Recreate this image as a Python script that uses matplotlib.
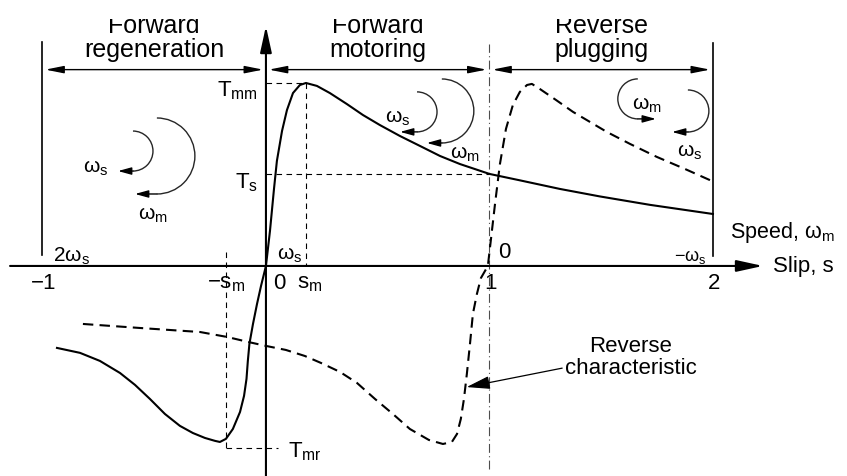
import matplotlib
matplotlib.use("Agg")
import matplotlib.pyplot as plt
from matplotlib.patches import Arc

plt.rcParams["font.family"] = ["Liberation Sans", "DejaVu Sans"]
plt.rcParams["mathtext.fontset"] = "custom"
plt.rcParams["mathtext.rm"] = "Liberation Sans"

# torque-slip characteristic (torque normalised to T_mm)
slip_fwd = [-0.935, -0.832, -0.743, -0.653, -0.586, -0.519, -0.452, -0.385, -0.327, -0.273,
            -0.228, -0.206, -0.179, -0.148, -0.116, -0.098, -0.087, -0.081, -0.074, -0.058,
            -0.040, -0.022, 0.0, 0.018, 0.036, 0.049, 0.072, 0.094, 0.121, 0.152,
            0.179, 0.228, 0.286, 0.362, 0.434, 0.510, 0.600, 0.689, 0.779, 0.868,
            1.0, 1.136, 1.315, 1.494, 1.718, 2.0]
torque_fwd = [-0.448, -0.475, -0.519, -0.585, -0.650, -0.727, -0.809, -0.874, -0.913, -0.940,
              -0.956, -0.962, -0.945, -0.891, -0.798, -0.710, -0.617, -0.519, -0.426, -0.317,
              -0.208, -0.109, 0.0, 0.191, 0.421, 0.574, 0.738, 0.852, 0.945, 0.989,
              1.0, 0.984, 0.945, 0.885, 0.825, 0.770, 0.710, 0.656, 0.601, 0.557,
              0.503, 0.468, 0.421, 0.380, 0.334, 0.284]

# reverse characteristic (dashed)
slip_rev = [-0.819, -0.564, -0.295, -0.174, -0.081, 0.0, 0.089, 0.174, 0.246, 0.331,
            0.407, 0.488, 0.568, 0.644, 0.729, 0.792, 0.832, 0.855, 0.872, 0.886,
            0.899, 0.913, 0.926, 0.944, 0.962, 0.993, 1.007, 1.025, 1.047, 1.074,
            1.105, 1.136, 1.168, 1.190, 1.226, 1.298, 1.374, 1.450, 1.526, 1.629,
            1.749, 1.875, 1.996]
torque_rev = [-0.317, -0.339, -0.361, -0.388, -0.415, -0.437, -0.459, -0.492, -0.530, -0.579,
              -0.639, -0.727, -0.809, -0.891, -0.951, -0.973, -0.962, -0.918, -0.836, -0.727,
              -0.590, -0.426, -0.262, -0.153, -0.066, 0.0, 0.148, 0.339, 0.557, 0.749,
              0.880, 0.951, 0.989, 0.995, 0.967, 0.907, 0.842, 0.787, 0.732, 0.667,
              0.596, 0.530, 0.464]

s_m = 0.179
T_mm = 1.0
T_s = 0.503
T_mr = -0.995

region_edges = [-1, 0, 1, 2]
region_top = ["Forward", "Forward", "Reverse"]
region_bottom = ["regeneration", "motoring", "plugging"]
region_y = 1.073

slip_ticks = [-1, 0, 1, 2]
slip_labels = ["\u22121", "0", "1", "2"]

xmin, xmax = -1.190, 2.600
ymin, ymax = -1.148, 1.459
W, H = 847, 477

fig = plt.figure(figsize=(W / 100, H / 100), dpi=100)
ax = fig.add_axes([0, 0, 1, 1])
ax.set_xlim(xmin, xmax)
ax.set_ylim(ymin, ymax)
ax.set_axis_off()

# pixels per data unit, used for circular arcs
sx = W / (xmax - xmin)
sy = H / (ymax - ymin)

# axes with arrow heads
ax.annotate("", xy=(2.224, 0), xytext=(-1.145, 0),
            arrowprops=dict(arrowstyle="-|>,head_length=1.6,head_width=0.35", lw=1.5,
                            color="k", shrinkA=0, shrinkB=0))
ax.annotate("", xy=(0, 1.311), xytext=(0, ymin),
            arrowprops=dict(arrowstyle="-|>,head_length=1.6,head_width=0.35", lw=1.5,
                            color="k", shrinkA=0, shrinkB=0))

# region boundaries
ax.plot([-1.0, -1.0], [0.060, 1.224], color="k", lw=1.2)
ax.plot([2.0, 2.0], [0.055, 1.219], color="k", lw=1.2)
ax.plot([1.0, 1.0], [-1.109, 1.213], color="0.3", lw=0.8, linestyle=(0, (8, 3, 1, 3)))

# region arrows and titles
gap = 0.013
for i in range(3):
    a, b = region_edges[i], region_edges[i + 1]
    ax.annotate("", xy=(b - gap, region_y), xytext=(a + gap, region_y),
                arrowprops=dict(arrowstyle="<|-|>,head_length=1.1,head_width=0.22",
                                lw=1.0, color="k", shrinkA=0, shrinkB=0))
    mid = (a + b) / 2
    ax.text(mid, 1.279, region_top[i], ha="center", va="baseline", fontsize=18)
    ax.text(mid, 1.148, region_bottom[i], ha="center", va="baseline", fontsize=18)

# the top edge of the sheet trims the first title line
ax.axhspan(1.350, ymax, color="white", lw=0, zorder=5)

# guide lines
guide = dict(color="k", lw=0.8, linestyle=(0, (5, 4)))
ax.plot([0, s_m], [T_mm, T_mm], **guide)
ax.plot([s_m, s_m], [T_mm, 0], **guide)
ax.plot([0, 1.0], [T_s, T_s], **guide)
ax.plot([-s_m, -s_m], [0.077, T_mr], **guide)
ax.plot([-s_m, 0.054], [T_mr, T_mr], **guide)

# curves
ax.plot(slip_fwd, torque_fwd, color="k", lw=1.5, solid_joinstyle="round")
ax.plot(slip_rev, torque_rev, color="k", lw=1.5, linestyle=(0, (5, 3)))

# torque labels
ax.text(-0.036, 0.962, r"$\mathregular{T_{mm}}$", ha="right", va="center", fontsize=16)
ax.text(-0.036, T_s - 0.04, r"$\mathregular{T_{s}}$", ha="right", va="center", fontsize=16)
ax.text(0.098, -1.011, r"$\mathregular{T_{mr}}$", ha="left", va="center", fontsize=16)

# speed labels above the slip axis
ax.text(-0.953, 0.060, r"$\mathregular{2ω_{s}}$", ha="left", va="center", fontsize=15)
ax.text(0.049, 0.066, r"$\mathregular{ω_{s}}$", ha="left", va="center", fontsize=15)
ax.text(1.038, 0.077, "0", ha="left", va="center", fontsize=16)
ax.text(1.973, 0.055, r"$\mathregular{−ω_{s}}$", ha="right", va="center", fontsize=13)
ax.text(2.076, 0.186, r"Speed, $\mathregular{ω_{m}}$", ha="left", va="center", fontsize=15.5)

# slip labels below the axis
for s, lab in zip(slip_ticks, slip_labels):
    if s == 0:
        ax.text(0.031, -0.093, lab, ha="left", va="center", fontsize=16)
    else:
        ax.text(s + 0.005, -0.093, lab, ha="center", va="center", fontsize=16)
ax.text(-0.094, -0.093, r"$\mathregular{−s_{m}}$", ha="right", va="center", fontsize=16)
ax.text(0.139, -0.093, r"$\mathregular{s_{m}}$", ha="left", va="center", fontsize=16)
ax.text(2.268, 0.0, "Slip, s", ha="left", va="center", fontsize=16)

# reverse characteristic callout
ax.annotate("Reverse\ncharacteristic", xy=(0.898, -0.662), xytext=(1.633, -0.497),
            ha="center", va="center", fontsize=16, linespacing=1.05,
            arrowprops=dict(arrowstyle="-|>,head_length=0.9,head_width=0.25", lw=0.9,
                            color="k", shrinkA=0, shrinkB=0,
                            relpos=(0.0, 0.25)))


# rotation arrows: half circle ending in a short arrow
def rotation(cx, cy, r_px, side, tip, label, lx, ly):
    w = 2 * r_px / sx
    h = 2 * r_px / sy
    if side == "right":
        th1, th2 = -90, 90
    else:
        th1, th2 = 90, 270
    ax.add_patch(Arc((cx, cy), w, h, theta1=th1, theta2=th2, color="0.15", lw=1.0))
    yb = cy - h / 2
    ax.annotate("", xy=(tip, yb), xytext=(cx, yb),
                arrowprops=dict(arrowstyle="-|>,head_length=0.8,head_width=0.22", lw=1.0,
                                color="k", shrinkA=0, shrinkB=0))
    ax.text(lx, ly, label, ha="center", va="center", fontsize=15)


rotation(-0.595, 0.628, 20, "right", -0.662, r"$\mathregular{ω_{s}}$", -0.761, 0.541)
rotation(-0.488, 0.601, 38, "right", -0.586, r"$\mathregular{ω_{m}}$", -0.506, 0.284)
rotation(0.676, 0.842, 20, "right", 0.600, r"$\mathregular{ω_{s}}$", 0.591, 0.814)
rotation(0.787, 0.847, 32, "right", 0.720, r"$\mathregular{ω_{m}}$", 0.890, 0.617)
rotation(1.664, 0.913, 20, "left", 1.745, r"$\mathregular{ω_{m}}$", 1.705, 0.885)
rotation(1.888, 0.847, 21, "right", 1.817, r"$\mathregular{ω_{s}}$", 1.897, 0.628)

fig.savefig("out.png", dpi=100)
